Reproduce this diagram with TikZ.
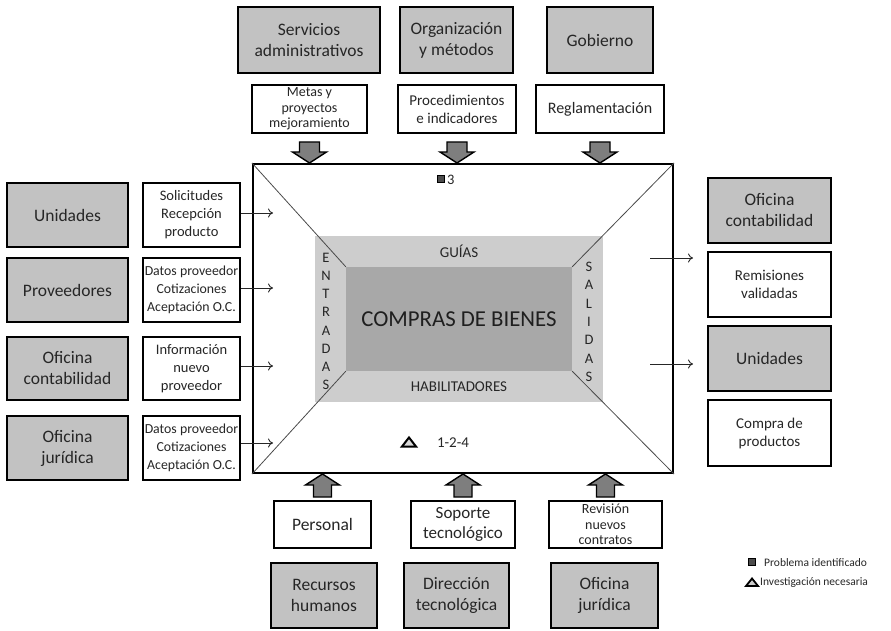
\documentclass[tikz,border=0pt]{standalone}
\usepackage{fontspec}
\setmainfont{Carlito}
\usetikzlibrary{arrows.meta,calc}

\definecolor{boxgray}{HTML}{C2C2C2}
\definecolor{bandgray}{HTML}{CDCDCD}
\definecolor{coregray}{HTML}{A8A8A8}
\definecolor{arrowgray}{HTML}{7E7E7E}
\definecolor{ink}{HTML}{262626}
\definecolor{diag}{HTML}{4A4A4A}

\newcommand{\fsz}[2]{\fontsize{#1}{#2}\selectfont}

\tikzset{
  base/.style={draw=black, line width=2.2pt, inner sep=0pt, align=center, text=ink},
  graybox/.style={base, fill=boxgray, font=\fsz{17.5}{21}},
  whitebox/.style={base, fill=white, font=\fsz{15}{18}},
  smallbox/.style={base, fill=white, font=\fsz{14.5}{18}},
  tightbox/.style={base, fill=white, font=\fsz{14}{15.5}},
  flow/.style={draw=black!85, line width=0.9pt, -{To[length=5pt,width=9pt]}},
  blockfill/.style={draw=black, line width=1.4pt, fill=arrowgray, line join=miter},
  pics/dnarrow/.style={code={
    \path[blockfill] (0,0) -- (-17,-11) -- (-10,-11) -- (-10,-21) -- (10,-21)
      -- (10,-11) -- (17,-11) -- cycle;}},
  pics/uparrow/.style={code={
    \path[blockfill] (0,0) -- (-17,11) -- (-9,11) -- (-9,23) -- (9,23)
      -- (9,11) -- (17,11) -- cycle;}},
  letter/.style={font=\fsz{14.5}{14.5}, text=ink, inner sep=0pt},
}

\begin{document}
\begin{tikzpicture}[x=1pt,y=-1pt]
\useasboundingbox (0,0) rectangle (891,631);

% ---- central process frame ----
\node[draw=black, line width=2pt, minimum width=420pt, minimum height=309pt, inner sep=0pt]
  (main) at (463,318.5) {};
\node[fill=bandgray, minimum width=288pt, minimum height=166pt, inner sep=0pt]
  (band) at (459,319) {};
\node[fill=coregray, minimum width=226pt, minimum height=104pt, inner sep=0pt,
  font=\fsz{22.8}{22.8}, text=black!88] (core) at (459,319) {COMPRAS DE BIENES};
\draw[diag, line width=0.8pt] (main.north west) -- (core.north west);
\draw[diag, line width=0.8pt] (main.north east) -- (core.north east);
\draw[diag, line width=0.8pt] (main.south west) -- (core.south west);
\draw[diag, line width=0.8pt] (main.south east) -- (core.south east);

\node[font=\fsz{15}{15}, text=ink] (guias) at (459,251) {GUÍAS};
\node[font=\fsz{15}{15}, text=ink] (habil) at (459,387) {HABILITADORES};

% vertical labels
\foreach \ch [count=\i from 0] in {E,N,T,R,A,D,A,S}
  \node[letter] (ent\i) at (326,{258+18.1*\i}) {\ch};
\foreach \ch [count=\i from 0] in {S,A,L,I,D,A,S}
  \node[letter] (sal\i) at (589,{267+18.3*\i}) {\ch};

% markers inside the frame
\node[draw=black, fill=black!70, line width=1.2pt, minimum size=7pt, inner sep=0pt] (sq) at (441,179) {};
\node[font=\fsz{14.5}{14.5}, text=ink, anchor=west, inner sep=0pt] (sqlbl) at (447,180) {3};
\path[draw=black, line width=2pt, fill=white!85!black, line join=miter]
  (402,446.5) -- (416,446.5) -- (409,437.5) -- cycle;
\node[font=\fsz{15}{15}, text=ink] (trilbl) at (453,442.5) {1-2-4};

% ---- top: guides ----
\node[graybox, minimum width=142pt, minimum height=66pt] (srv) at (309,40) {Servicios\\administrativos};
\node[graybox, minimum width=113pt, minimum height=66pt] (org) at (456.5,40) {Organización\\y métodos};
\node[graybox, minimum width=106pt, minimum height=66pt] (gob) at (600,40) {Gobierno};

\node[tightbox, minimum width=115pt, minimum height=48pt] (metas) at (309.5,109) {Metas y\\proyectos\\mejoramiento};
\node[whitebox, minimum width=118pt, minimum height=48pt] (proc) at (457,109) {Procedimientos\\e indicadores};
\node[whitebox, minimum width=128pt, minimum height=48pt, font=\fsz{16}{18}] (regl) at (600,109) {Reglamentación};

\pic at (metas.south |- main.north) {dnarrow};
\pic at (proc.south |- main.north) {dnarrow};
\pic at (regl.south |- main.north) {dnarrow};

% ---- left: inputs ----
\node[graybox, minimum width=121pt, minimum height=64pt] (uni) at (67.5,215) {Unidades};
\node[graybox, minimum width=121pt, minimum height=64pt] (prov) at (67.5,290) {Proveedores};
\node[graybox, minimum width=121pt, minimum height=63pt] (ocont) at (67.5,368.5) {Oficina\\contabilidad};
\node[graybox, minimum width=121pt, minimum height=64pt] (ojur) at (67.5,448) {Oficina\\jurídica};

\node[smallbox, minimum width=97pt, minimum height=64pt] (sol) at (191.5,215) {Solicitudes\\Recepción\\producto};
\node[smallbox, minimum width=97pt, minimum height=64pt, font=\fsz{13.8}{18}] (dat1) at (191.5,290) {Datos proveedor\\Cotizaciones\\Aceptación O.C.};
\node[smallbox, minimum width=97pt, minimum height=63pt] (info) at (191.5,368.5) {Información\\nuevo\\proveedor};
\node[smallbox, minimum width=97pt, minimum height=64pt, font=\fsz{13.8}{18}] (dat2) at (191.5,448) {Datos proveedor\\Cotizaciones\\Aceptación O.C.};

\coordinate (in1) at (273,213);
\coordinate (in2) at (273,288);
\coordinate (in3) at (273,366);
\coordinate (in4) at (273,443);
\draw[flow] (sol.east |- in1) -- (in1);
\draw[flow] (dat1.east |- in2) -- (in2);
\draw[flow] (info.east |- in3) -- (in3);
\draw[flow] (dat2.east |- in4) -- (in4);

% ---- right: outputs ----
\node[graybox, minimum width=123pt, minimum height=65pt] (rcont) at (769.5,210.5) {Oficina\\contabilidad};
\node[smallbox, minimum width=123pt, minimum height=65pt, font=\fsz{15}{18}] (remi) at (769.5,284.5) {Remisiones\\validadas};
\node[graybox, minimum width=123pt, minimum height=65pt] (runi) at (769.5,358.5) {Unidades};
\node[smallbox, minimum width=123pt, minimum height=66pt, font=\fsz{15}{18}] (comp) at (769.5,433) {Compra de\\productos};

\coordinate (out1a) at (650,258);
\coordinate (out1b) at (693,258);
\coordinate (out2a) at (650,364);
\coordinate (out2b) at (693,364);
\draw[flow] (out1a) -- (out1b);
\draw[flow] (out2a) -- (out2b);

% ---- bottom: enablers ----
\node[whitebox, minimum width=97pt, minimum height=47pt, font=\fsz{17.5}{20}] (pers) at (322.5,524.5) {Personal};
\node[whitebox, minimum width=104pt, minimum height=47pt, font=\fsz{17}{20}] (sop) at (463,524.5) {Soporte\\tecnológico};
\node[tightbox, minimum width=113pt, minimum height=47pt] (rev) at (605.5,524.5) {Revisión\\nuevos\\contratos};

\node[graybox, minimum width=106pt, minimum height=65pt] (rrhh) at (324,595.5) {Recursos\\humanos};
\node[graybox, minimum width=105pt, minimum height=65pt] (dtec) at (456.5,595.5) {Dirección\\tecnológica};
\node[graybox, minimum width=107pt, minimum height=65pt] (bjur) at (604.5,595.5) {Oficina\\jurídica};

\pic at (pers.north |- main.south) {uparrow};
\pic at (sop.north |- main.south) {uparrow};
\pic at (rev.north |- main.south) {uparrow};

% ---- legend ----
\node[draw=black, fill=black!70, line width=1.2pt, minimum size=7pt, inner sep=0pt] (lgsq) at (752,562) {};
\node[font=\fsz{11.5}{11.5}, text=ink, anchor=west, inner sep=0pt] (lgsqt) at (764,562.5) {Problema identificado};
\path[draw=black, line width=1.8pt, fill=white!80!black, line join=miter]
  (746,586) -- (758,586) -- (752,578.5) -- cycle;
\node[font=\fsz{11.5}{11.5}, text=ink, anchor=west, inner sep=0pt] (lgtrt) at (760,582.5) {Investigación necesaria};
\end{tikzpicture}
\end{document}
